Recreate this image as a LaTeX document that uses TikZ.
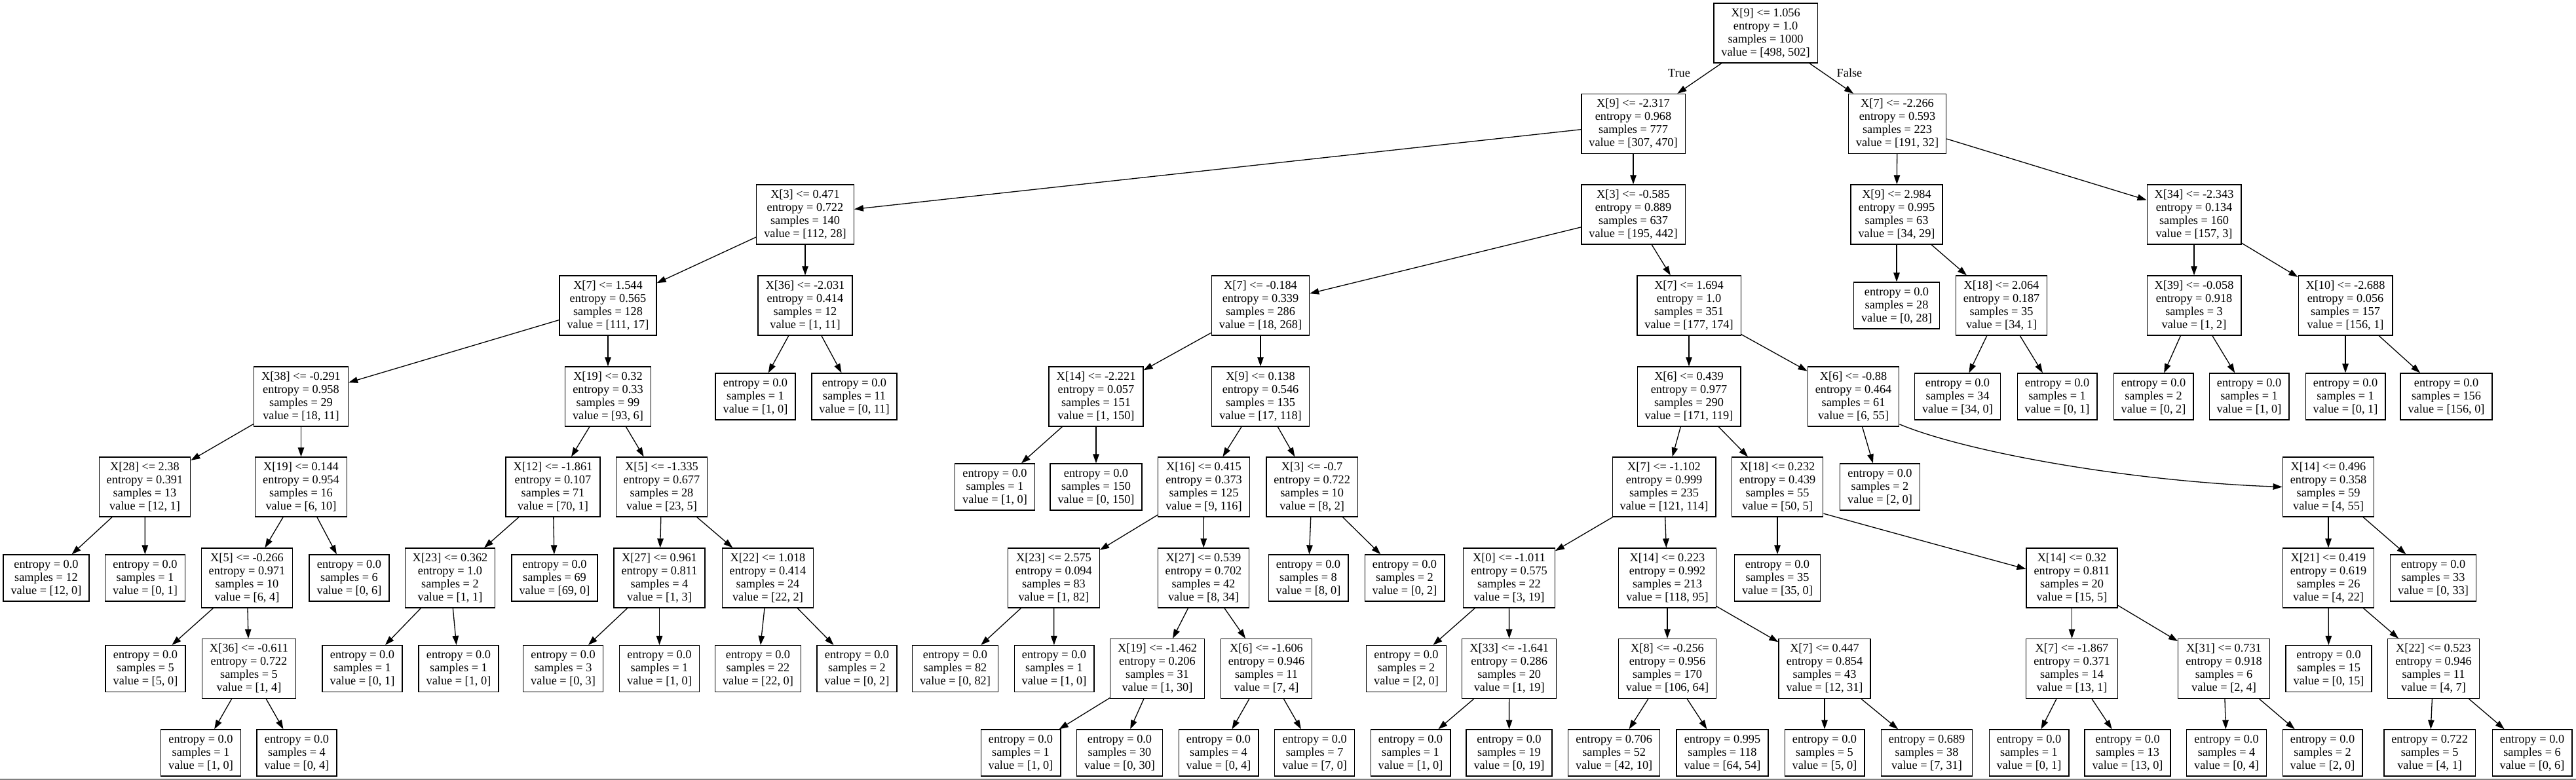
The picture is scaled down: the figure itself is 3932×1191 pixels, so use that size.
\documentclass[tikz,border=0pt]{standalone}
\usepackage{fontspec}
\setmainfont{Liberation Serif}
\usetikzlibrary{arrows.meta}
\newcommand\treefont{\fontsize{18.3}{20}\selectfont}
\newcommand\decT[5]{X[#1] <= #2\\entropy = #3\\samples = #4\\value = [#5]}
\newcommand\leafT[3]{entropy = #1\\samples = #2\\value = [#3]}
\tikzset{
  tbox/.style={draw=black, line width=1.3pt, rectangle, align=center, inner xsep=11.5pt, inner ysep=2pt, font=\treefont},
  tdec/.style={tbox, minimum height=91pt},
  tleaf/.style={tbox, minimum height=71pt},
  conn/.style={line width=1.3pt, -{Triangle[length=14pt,width=9.5pt]}},
  tlbl/.style={font=\treefont, inner sep=0pt},
}
\begin{document}
\begin{tikzpicture}[x=1pt,y=1pt]
\fill[white] (0,0) rectangle (3932,-1191);
\useasboundingbox (0,0) rectangle (3932,-1191);
% row 0
\node[tdec] (n0) at (2695,-50.5) {\decT{9}{1.056}{1.0}{1000}{498, 502}};
% row 1
\node[tdec] (n1) at (2493,-189) {\decT{9}{-2.317}{0.968}{777}{307, 470}};
\node[tdec] (n2) at (2896,-189) {\decT{7}{-2.266}{0.593}{223}{191, 32}};
% row 2
\node[tdec] (n3) at (1229,-327.5) {\decT{3}{0.471}{0.722}{140}{112, 28}};
\node[tdec] (n4) at (2493,-327.5) {\decT{3}{-0.585}{0.889}{637}{195, 442}};
\node[tdec] (n5) at (2895,-327.5) {\decT{9}{2.984}{0.995}{63}{34, 29}};
\node[tdec] (n6) at (3349,-327.5) {\decT{34}{-2.343}{0.134}{160}{157, 3}};
% row 3
\node[tdec] (n7) at (928,-466.5) {\decT{7}{1.544}{0.565}{128}{111, 17}};
\node[tdec] (n8) at (1229,-466.5) {\decT{36}{-2.031}{0.414}{12}{1, 11}};
\node[tdec] (n9) at (1924,-466.5) {\decT{7}{-0.184}{0.339}{286}{18, 268}};
\node[tdec] (n10) at (2578,-466.5) {\decT{7}{1.694}{1.0}{351}{177, 174}};
\node[tleaf] (n11) at (2895,-466.5) {\leafT{0.0}{28}{0, 28}};
\node[tdec] (n12) at (3055,-466.5) {\decT{18}{2.064}{0.187}{35}{34, 1}};
\node[tdec] (n13) at (3349,-466.5) {\decT{39}{-0.058}{0.918}{3}{1, 2}};
\node[tdec] (n14) at (3580,-466.5) {\decT{10}{-2.688}{0.056}{157}{156, 1}};
% row 4
\node[tdec] (n15) at (459.5,-605.5) {\decT{38}{-0.291}{0.958}{29}{18, 11}};
\node[tdec] (n16) at (928,-605.5) {\decT{19}{0.32}{0.33}{99}{93, 6}};
\node[tleaf] (n17) at (1153,-605.5) {\leafT{0.0}{1}{1, 0}};
\node[tleaf] (n18) at (1304,-605.5) {\leafT{0.0}{11}{0, 11}};
\node[tdec] (n19) at (1673,-605.5) {\decT{14}{-2.221}{0.057}{151}{1, 150}};
\node[tdec] (n20) at (1924,-605.5) {\decT{9}{0.138}{0.546}{135}{17, 118}};
\node[tdec] (n21) at (2578,-605.5) {\decT{6}{0.439}{0.977}{290}{171, 119}};
\node[tdec] (n22) at (2829,-605.5) {\decT{6}{-0.88}{0.464}{61}{6, 55}};
\node[tleaf] (n23) at (2988,-605.5) {\leafT{0.0}{34}{34, 0}};
\node[tleaf] (n24) at (3140,-605.5) {\leafT{0.0}{1}{0, 1}};
\node[tleaf] (n25) at (3287,-605.5) {\leafT{0.0}{2}{0, 2}};
\node[tleaf] (n26) at (3433,-605.5) {\leafT{0.0}{1}{1, 0}};
\node[tleaf] (n27) at (3580,-605.5) {\leafT{0.0}{1}{0, 1}};
\node[tleaf] (n28) at (3734,-605.5) {\leafT{0.0}{156}{156, 0}};
% row 5
\node[tdec] (n29) at (221,-743.5) {\decT{28}{2.38}{0.391}{13}{12, 1}};
\node[tdec] (n30) at (459.5,-743.5) {\decT{19}{0.144}{0.954}{16}{6, 10}};
\node[tdec] (n31) at (844,-743.5) {\decT{12}{-1.861}{0.107}{71}{70, 1}};
\node[tdec] (n32) at (1010,-743.5) {\decT{5}{-1.335}{0.677}{28}{23, 5}};
\node[tleaf] (n33) at (1518.5,-743.5) {\leafT{0.0}{1}{1, 0}};
\node[tleaf] (n34) at (1673,-743.5) {\leafT{0.0}{150}{0, 150}};
\node[tdec] (n35) at (1837.5,-743.5) {\decT{16}{0.415}{0.373}{125}{9, 116}};
\node[tdec] (n36) at (2002.6,-743.5) {\decT{3}{-0.7}{0.722}{10}{8, 2}};
\node[tdec] (n37) at (2540,-743.5) {\decT{7}{-1.102}{0.999}{235}{121, 114}};
\node[tdec] (n38) at (2713,-743.5) {\decT{18}{0.232}{0.439}{55}{50, 5}};
\node[tleaf] (n39) at (2869.5,-743.5) {\leafT{0.0}{2}{2, 0}};
\node[tdec] (n40) at (3554,-743.5) {\decT{14}{0.496}{0.358}{59}{4, 55}};
% row 6
\node[tleaf] (n41) at (70.5,-882.5) {\leafT{0.0}{12}{12, 0}};
\node[tleaf] (n42) at (221.5,-882.5) {\leafT{0.0}{1}{0, 1}};
\node[tdec] (n43) at (377,-882.5) {\decT{5}{-0.266}{0.971}{10}{6, 4}};
\node[tleaf] (n44) at (533,-882.5) {\leafT{0.0}{6}{0, 6}};
\node[tdec] (n45) at (687,-882.5) {\decT{23}{0.362}{1.0}{2}{1, 1}};
\node[tleaf] (n46) at (846.5,-882.5) {\leafT{0.0}{69}{69, 0}};
\node[tdec] (n47) at (1006.5,-882.5) {\decT{27}{0.961}{0.811}{4}{1, 3}};
\node[tdec] (n48) at (1172,-882.5) {\decT{22}{1.018}{0.414}{24}{22, 2}};
\node[tdec] (n49) at (1608.5,-882.5) {\decT{23}{2.575}{0.094}{83}{1, 82}};
\node[tdec] (n50) at (1837,-882.5) {\decT{27}{0.539}{0.702}{42}{8, 34}};
\node[tleaf] (n51) at (1997,-882.5) {\leafT{0.0}{8}{8, 0}};
\node[tleaf] (n52) at (2144,-882.5) {\leafT{0.0}{2}{0, 2}};
\node[tdec] (n53) at (2303.5,-882.5) {\decT{0}{-1.011}{0.575}{22}{3, 19}};
\node[tdec] (n54) at (2545,-882.5) {\decT{14}{0.223}{0.992}{213}{118, 95}};
\node[tleaf] (n55) at (2713,-882.5) {\leafT{0.0}{35}{35, 0}};
\node[tdec] (n56) at (3162.5,-882.5) {\decT{14}{0.32}{0.811}{20}{15, 5}};
\node[tdec] (n57) at (3554,-882.5) {\decT{21}{0.419}{0.619}{26}{4, 22}};
\node[tleaf] (n58) at (3714,-882.5) {\leafT{0.0}{33}{0, 33}};
% row 7
\node[tleaf] (n59) at (222,-1021) {\leafT{0.0}{5}{5, 0}};
\node[tdec] (n60) at (380,-1021) {\decT{36}{-0.611}{0.722}{5}{1, 4}};
\node[tleaf] (n61) at (553,-1021) {\leafT{0.0}{1}{0, 1}};
\node[tleaf] (n62) at (700,-1021) {\leafT{0.0}{1}{1, 0}};
\node[tleaf] (n63) at (859.6,-1021) {\leafT{0.0}{3}{0, 3}};
\node[tleaf] (n64) at (1006.5,-1021) {\leafT{0.0}{1}{1, 0}};
\node[tleaf] (n65) at (1157,-1021) {\leafT{0.0}{22}{22, 0}};
\node[tleaf] (n66) at (1308,-1021) {\leafT{0.0}{2}{0, 2}};
\node[tleaf] (n67) at (1458,-1021) {\leafT{0.0}{82}{0, 82}};
\node[tleaf] (n68) at (1609,-1021) {\leafT{0.0}{1}{1, 0}};
\node[tdec] (n69) at (1766.5,-1021) {\decT{19}{-1.462}{0.206}{31}{1, 30}};
\node[tdec] (n70) at (1933,-1021) {\decT{6}{-1.606}{0.946}{11}{7, 4}};
\node[tleaf] (n71) at (2146.5,-1021) {\leafT{0.0}{2}{2, 0}};
\node[tdec] (n72) at (2303.7,-1021) {\decT{33}{-1.641}{0.286}{20}{1, 19}};
\node[tdec] (n73) at (2545,-1021) {\decT{8}{-0.256}{0.956}{170}{106, 64}};
\node[tdec] (n74) at (2785,-1021) {\decT{7}{0.447}{0.854}{43}{12, 31}};
\node[tdec] (n75) at (3162.5,-1021) {\decT{7}{-1.867}{0.371}{14}{13, 1}};
\node[tdec] (n76) at (3394.5,-1021) {\decT{31}{0.731}{0.918}{6}{2, 4}};
\node[tleaf] (n77) at (3554.5,-1021) {\leafT{0.0}{15}{0, 15}};
\node[tdec] (n78) at (3714.5,-1021) {\decT{22}{0.523}{0.946}{11}{4, 7}};
% row 8
\node[tleaf] (n79) at (306.5,-1149.5) {\leafT{0.0}{1}{1, 0}};
\node[tleaf] (n80) at (453,-1149.5) {\leafT{0.0}{4}{0, 4}};
\node[tleaf] (n81) at (1558,-1149.5) {\leafT{0.0}{1}{1, 0}};
\node[tleaf] (n82) at (1709,-1149.5) {\leafT{0.0}{30}{0, 30}};
\node[tleaf] (n83) at (1860,-1149.5) {\leafT{0.0}{4}{0, 4}};
\node[tleaf] (n84) at (2006.6,-1149.5) {\leafT{0.0}{7}{7, 0}};
\node[tleaf] (n85) at (2153,-1149.5) {\leafT{0.0}{1}{1, 0}};
\node[tleaf] (n86) at (2303.5,-1149.5) {\leafT{0.0}{19}{0, 19}};
\node[tleaf] (n87) at (2463.7,-1149.5) {\leafT{0.706}{52}{42, 10}};
\node[tleaf] (n88) at (2629,-1149.5) {\leafT{0.995}{118}{64, 54}};
\node[tleaf] (n89) at (2785,-1149.5) {\leafT{0.0}{5}{5, 0}};
\node[tleaf] (n90) at (2941,-1149.5) {\leafT{0.689}{38}{7, 31}};
\node[tleaf] (n91) at (3097,-1149.5) {\leafT{0.0}{1}{0, 1}};
\node[tleaf] (n92) at (3247.5,-1149.5) {\leafT{0.0}{13}{13, 0}};
\node[tleaf] (n93) at (3398.5,-1149.5) {\leafT{0.0}{4}{0, 4}};
\node[tleaf] (n94) at (3545,-1149.5) {\leafT{0.0}{2}{2, 0}};
\node[tleaf] (n95) at (3708.6,-1149.5) {\leafT{0.722}{5}{4, 1}};
\node[tleaf] (n96) at (3865,-1149.5) {\leafT{0.0}{6}{0, 6}};
% labels
\node[tlbl] (ltrue) at (2563,-112) {True};
\node[tlbl] (lfalse) at (2823,-111) {False};
% edges
\foreach \p/\c in {n0/n1,n0/n2,n1/n3,n1/n4,n2/n5,n2/n6,
  n3/n7,n3/n8,n4/n9,n4/n10,n5/n11,n5/n12,n6/n13,n6/n14,
  n7/n15,n7/n16,n8/n17,n8/n18,n9/n19,n9/n20,n10/n21,n10/n22,
  n12/n23,n12/n24,n13/n25,n13/n26,n14/n27,n14/n28,
  n15/n29,n15/n30,n16/n31,n16/n32,n19/n33,n19/n34,n20/n35,n20/n36,
  n21/n37,n21/n38,n22/n39,
  n29/n41,n29/n42,n30/n43,n30/n44,n31/n45,n31/n46,n32/n47,n32/n48,
  n35/n49,n35/n50,n36/n51,n36/n52,n37/n53,n37/n54,n38/n55,
  n40/n57,n40/n58,
  n43/n59,n43/n60,n45/n61,n45/n62,n47/n63,n47/n64,n48/n65,n48/n66,
  n49/n67,n49/n68,n50/n69,n50/n70,n53/n71,n53/n72,n54/n73,n54/n74,
  n56/n75,n56/n76,n57/n77,n57/n78,
  n60/n79,n60/n80,n69/n81,n69/n82,n70/n83,n70/n84,n72/n85,n72/n86,
  n73/n87,n73/n88,n74/n89,n74/n90,n75/n91,n75/n92,n76/n93,n76/n94,
  n78/n95,n78/n96}
  {\draw[conn] (\p) -- (\c);}
\draw[conn] (n22.-31) .. controls (3000,-690) and (3250,-735) .. (n40.west);
\draw[conn] (n38.-30) .. controls (2880,-811) and (2990,-841) .. (n56.169);
% bottom rule
\coordinate (bl) at (0,-1190);
\coordinate (br) at (3932,-1190);
\draw[gray, line width=1.5pt] (bl) -- (br);
\end{tikzpicture}
\end{document}
